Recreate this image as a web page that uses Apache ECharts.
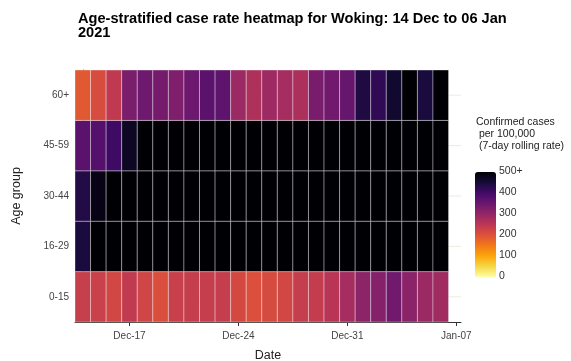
<!DOCTYPE html>
<html><head><meta charset="utf-8">
<script src="https://cdn.jsdelivr.net/npm/echarts@6/dist/echarts.min.js"></script>
<style>html,body{margin:0;padding:0;background:#fff}#c{width:571px;height:361px}</style>
</head><body><div id="c"></div>
<script>
// ---- data ----
const dates = ["Dec-14","Dec-15","Dec-16","Dec-17","Dec-18","Dec-19","Dec-20","Dec-21","Dec-22","Dec-23","Dec-24","Dec-25","Dec-26","Dec-27","Dec-28","Dec-29","Dec-30","Dec-31","Jan-01","Jan-02","Jan-03","Jan-04","Jan-05","Jan-06"];
const ageGroups = ["0-15","16-29","30-44","45-59","60+"];
const rate_0_15  = [235,230,220,242,222,205,232,236,236,236,215,203,212,220,236,238,255,278,308,318,343,310,292,285];
const rate_16_29 = [445,560,600,640,680,700,720,740,760,780,790,800,780,760,740,720,700,690,680,670,660,650,640,630];
const rate_30_44 = [435,485,540,580,620,650,680,700,720,740,750,760,750,740,720,700,690,680,670,660,650,640,630,620];
const rate_45_59 = [370,378,405,470,520,560,590,610,630,650,660,670,660,650,640,630,620,610,600,590,580,570,560,550];
const rate_60    = [190,210,245,330,345,335,325,348,370,365,290,268,288,278,270,332,343,355,440,420,458,560,445,540];
const xTickLabels = ["Dec-17","Dec-24","Dec-31","Jan-07"];
const xTickValues = [3,10,17,24];
const legendTicks = [0,100,200,300,400,500];
const legendTickLabels = ["0","100","200","300","400","500+"];
const palette = ["#FCFFA4","#F6D746","#FCA50A","#F37819","#DD513A","#BC3754","#932667","#6A176E","#420A68","#160B39","#000004"];

const rows = [rate_0_15, rate_16_29, rate_30_44, rate_45_59, rate_60];
const cells = [];
rows.forEach((r, gi) => r.forEach((v, di) => cells.push([di, gi, Math.min(v, 500), v])));

const FONT = '"Liberation Sans", Arial, sans-serif';
const barTop = 172, barH = 105, barBottom = barTop + barH;
const graphics = [];
legendTicks.forEach((t, i) => {
  graphics.push({type:'text', left: 499, top: barBottom - t/500*barH - 6,
    style:{text: legendTickLabels[i], font:'10.5px ' + FONT, fill:'#333'}});
  if (i > 0 && i < legendTicks.length - 1) {
    const y = barBottom - t/500*barH;
    graphics.push({type:'line', shape:{x1:475,y1:y,x2:479,y2:y}, style:{stroke:'rgba(255,255,255,0.6)',lineWidth:1}});
    graphics.push({type:'line', shape:{x1:492,y1:y,x2:496,y2:y}, style:{stroke:'rgba(255,255,255,0.6)',lineWidth:1}});
  }
});
graphics.push({type:'text', left: 476, top: 116,
  style:{text:'Confirmed cases\n per 100,000\n (7-day rolling rate)', font:'10.5px ' + FONT, fill:'#222', lineHeight:12}});

const chart = echarts.init(document.getElementById('c'), null, {renderer:'canvas'});
chart.setOption({
  animation:false,
  backgroundColor:'#fff',
  title:{text:'Age-stratified case rate heatmap for Woking: 14 Dec to 06 Jan\n2021', left:73, top:7,
    textStyle:{fontFamily:FONT, fontWeight:'bold', fontSize:14.6, color:'#000', lineHeight:14}},
  grid:{left:75, right:110, top:70, bottom:39, containLabel:false, outerBoundsMode:'none'},
  xAxis:{type:'value', min:-0.5, max:24.3,
    name:'Date', nameLocation:'middle', nameGap:27,
    nameTextStyle:{fontFamily:FONT, fontSize:12.5, color:'#222'},
    axisLine:{show:true, onZero:false, lineStyle:{color:'#333', width:1}},
    axisTick:{show:true, length:4, customValues:xTickValues, lineStyle:{color:'#333'}},
    axisLabel:{customValues:xTickValues, formatter:v => xTickLabels[xTickValues.indexOf(v)], margin:9,
      fontFamily:FONT, fontSize:10, color:'#444'},
    splitLine:{show:false}},
  yAxis:{type:'category', data:ageGroups,
    name:'Age group', nameLocation:'middle', nameGap:52, nameRotate:90,
    nameTextStyle:{fontFamily:FONT, fontSize:12.5, color:'#222'},
    axisLine:{show:true, lineStyle:{color:'#333', width:1}},
    axisTick:{show:true, length:4, alignWithLabel:true, lineStyle:{color:'#333'}},
    axisLabel:{margin:6, fontFamily:FONT, fontSize:10, color:'#444'},
    splitLine:{show:false}},
  visualMap:{type:'continuous', min:0, max:500, dimension:2, seriesIndex:1,
    calculable:false, show:true, orient:'vertical', left:475, top:barTop, itemWidth:21, itemHeight:barH,
    padding:0, text:null, showLabel:false,
    inRange:{color:palette}},
  graphic:graphics,
  series:[
    {type:'custom', z:1, silent:true, data:ageGroups.map((g,i)=>[i]), encode:{y:0},
      renderItem:(params, api) => {
        const gi = api.value(0);
        const p = api.coord([24.3, gi]);
        const l = api.coord([-0.5, gi]);
        return {type:'line', shape:{x1:l[0], y1:p[1], x2:p[0], y2:p[1]}, style:{stroke:'#ebebe0', lineWidth:1}};
      }},
    {type:'custom', z:2, data:cells, encode:{x:0, y:1},
      renderItem:(params, api) => {
        const x = api.value(0), gi = api.value(1);
        const left = api.coord([x - 0.5, gi]);
        const right = api.coord([x + 0.5, gi]);
        const h = api.size([0, 1])[1];
        return {type:'rect', shape:{x:left[0], y:left[1]-h/2, width:right[0]-left[0], height:h},
          style:{fill:api.visual('color'), stroke:'rgba(255,255,255,0.35)', lineWidth:1}};
      }}
  ]
});
</script></body></html>
